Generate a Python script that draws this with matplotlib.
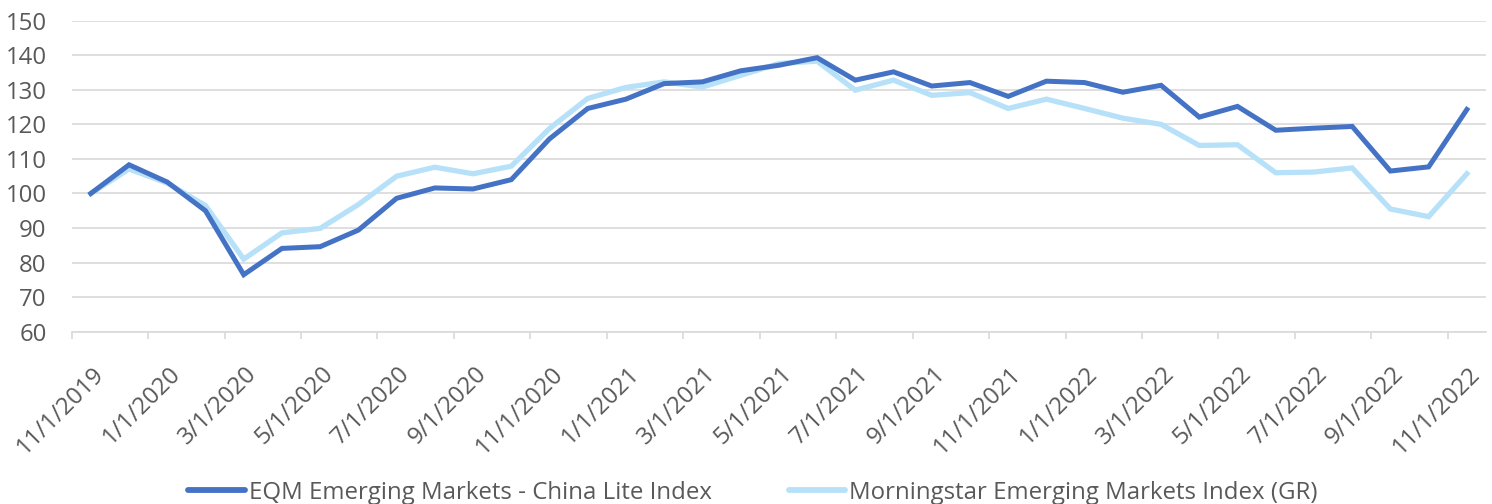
import matplotlib.pyplot as plt
from matplotlib.transforms import ScaledTranslation


# monthly index levels, Nov 2019 .. Nov 2022
eqm = [100.0, 108.3, 103.3, 95.0, 76.5, 84.1, 84.6, 89.4, 98.6, 101.6,
       101.3, 104.0, 115.8, 124.6, 127.3, 131.8, 132.3, 135.5, 137.1, 139.3,
       132.8, 135.2, 131.1, 132.1, 128.1, 132.5, 132.1, 129.3, 131.3, 122.1,
       125.2, 118.3, 118.9, 119.4, 106.5, 107.7, 124.3]
mstar = [100.0, 107.1, 103.0, 96.5, 81.0, 88.6, 89.9, 96.8, 105.0, 107.6,
         105.7, 107.9, 118.8, 127.5, 130.7, 132.3, 130.8, 134.2, 137.6, 138.3,
         129.9, 132.8, 128.4, 129.2, 124.6, 127.3, 124.6, 121.8, 120.0, 113.9,
         114.1, 106.0, 106.2, 107.4, 95.5, 93.3, 105.7]
tick_labels = ['11/1/2019', '1/1/2020', '3/1/2020', '5/1/2020', '7/1/2020',
               '9/1/2020', '11/1/2020', '1/1/2021', '3/1/2021', '5/1/2021',
               '7/1/2021', '9/1/2021', '11/1/2021', '1/1/2022', '3/1/2022',
               '5/1/2022', '7/1/2022', '9/1/2022', '11/1/2022']
series_names = ['EQM Emerging Markets - China Lite Index',
                'Morningstar Emerging Markets Index (GR)']

txt = '#595959'
grid = '#D9D9D9'


def main():
    plt.rcParams['font.family'] = ['Open Sans', 'DejaVu Sans']
    fig = plt.figure(figsize=(14.92, 5.04), dpi=100)
    ax = fig.add_axes([0.04806, 0.3419, 0.9479, 0.617])

    x = [i + 0.5 for i in range(len(eqm))]
    ax.plot(x, eqm, color='#4472C4', lw=3.6, solid_joinstyle='miter',
            label=series_names[0], zorder=3)
    ax.plot(x, mstar, color='#B7E1F8', lw=3.8, solid_joinstyle='miter',
            label=series_names[1], zorder=2)

    ax.set_xlim(0, len(eqm))
    ax.set_ylim(60, 150)
    ax.set_yticks(range(60, 151, 10))
    ax.yaxis.grid(True, color=grid, lw=1.2)
    ax.set_axisbelow(True)
    for s in ['top', 'right', 'left']:
        ax.spines[s].set_visible(False)
    ax.spines['bottom'].set_color(grid)
    ax.spines['bottom'].set_linewidth(1.2)

    ax.tick_params(axis='y', length=0, pad=18, labelsize=17.3, labelcolor=txt)
    ax.tick_params(axis='x', length=5, width=1.2, color=grid, pad=23,
                   labelsize=17.3, labelcolor=txt)
    ax.set_xticks(range(0, len(eqm), 2))
    ax.set_xticklabels(tick_labels, rotation=45, ha='right', va='center',
                       rotation_mode='anchor')
    off = ScaledTranslation(29 / 100, 0, fig.dpi_scale_trans)
    for lab in ax.get_xticklabels():
        lab.set_transform(lab.get_transform() + off)

    leg = fig.legend(loc='center',
                     bbox_to_anchor=(0.5 + 7 / 1492, 1 - 492.7 / 504),
                     ncol=2, frameon=False, fontsize=17.3, handlelength=2.35,
                     handletextpad=0.17, columnspacing=3.2, borderpad=0)
    for t in leg.get_texts():
        t.set_color(txt)
    for h in leg.get_lines():
        h.set_linewidth(4.2)
        h.set_solid_capstyle('round')

    fig.savefig('out.png', dpi=100)


if __name__ == '__main__':
    main()
